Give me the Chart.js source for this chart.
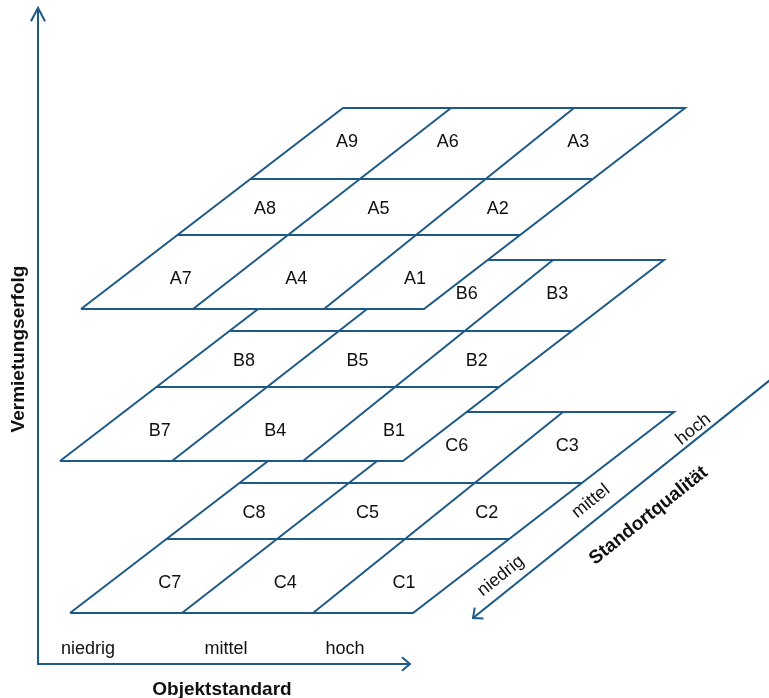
<!DOCTYPE html>
<html lang="de">
<head>
<meta charset="utf-8">
<title>Vermietungserfolg – Objektstandard – Standortqualität</title>
<script src="https://cdn.jsdelivr.net/npm/chart.js@4.4.0/dist/chart.umd.min.js"></script>
<style>
    html, body { margin: 0; padding: 0; background: #fff; }
    #wrap { width: 769px; height: 698px; }
</style>
</head>
<body>
<div id="wrap"><canvas id="matrixChart" width="769" height="698"></canvas></div>
<script>
// Data: three layers of Vermietungserfolg, each a 3x3 grid Objektstandard x Standortqualität
const layerNames = ['A', 'B', 'C'];            // top to bottom
const layerLevel = [355, 203, 51];             // height above the Objektstandard axis
const layerShift = [43, 22, 32];               // front-left corner, along Objektstandard
const objektTicks = ['niedrig', 'mittel', 'hoch'];
const standortTicks = ['niedrig', 'mittel', 'hoch'];
const colFront = [0, 112, 243, 343];           // column borders on the front edge
const colBack = [0, 108, 231, 342];            // column borders on the back edge
const rowDepth = [0, 74, 130, 201];            // row borders along Standortqualität
const cellNumbers = [                          // rows: Standort niedrig -> hoch, cols: Objekt niedrig -> hoch
    [7, 4, 1],
    [8, 5, 2],
    [9, 6, 3]
];

// Layout
const LINE = '#1d5a87';
const TEXT = '#111111';
const FONT = '"Liberation Sans", Arial, sans-serif';
const SHEAR = 262 / 201;
const DEPTH = rowDepth[rowDepth.length - 1];
const objTickX = [50, 188, 307];
const diagTip = { x: 435, y: 46 };
const diagDir = { x: 0.7805, y: 0.6252 };
const diagTickAlong = [48, 165, 290];
const diagTickPerp = [17, 19, 11];
const colNudgeX = [-4, -9, -6];
const rowNudgeY = [5, 0, -3];
const labelNudge = { A6: [-20, -3], B6: [20, -3], C6: [0, -3] };

function uAt(i, v) {
    return colFront[i] + (colBack[i] - colFront[i]) * v / DEPTH;
}

function proj(l, u, v) {
    return { x: layerShift[l] + u + SHEAR * v, y: layerLevel[l] + v };
}

function arrowHead(tip, dir, len, deg) {
    const a = deg * Math.PI / 180;
    const bx = -dir.x, by = -dir.y;
    const rot = (s) => ({
        x: tip.x + len * (bx * Math.cos(s) - by * Math.sin(s)),
        y: tip.y + len * (bx * Math.sin(s) + by * Math.cos(s))
    });
    return [rot(a), { x: tip.x, y: tip.y }, rot(-a)];
}

function lineSet(points, order, extra) {
    return Object.assign({
        data: points,
        borderColor: LINE,
        borderWidth: 2,
        pointRadius: 0,
        tension: 0,
        fill: false,
        order: order,
        clip: false
    }, extra || {});
}

const datasets = [];

layerNames.forEach((name, l) => {
    // outline with white fill, so upper layers hide the ones below
    const outline = [
        proj(l, uAt(0, 0), 0),
        proj(l, uAt(3, 0), 0),
        proj(l, uAt(3, DEPTH), DEPTH),
        proj(l, uAt(0, DEPTH), DEPTH),
        proj(l, uAt(0, 0), 0)
    ];
    datasets.push(lineSet(outline, l * 10 + 5, {
        fill: 'shape',
        backgroundColor: '#ffffff',
        role: 'outline',
        layer: l
    }));

    // Standortqualität rows
    for (let r = 1; r < 3; r++) {
        const v = rowDepth[r];
        datasets.push(lineSet([proj(l, uAt(0, v), v), proj(l, uAt(3, v), v)], l * 10 + 1));
    }
    // Objektstandard columns
    for (let c = 1; c < 3; c++) {
        datasets.push(lineSet([proj(l, uAt(c, 0), 0), proj(l, uAt(c, DEPTH), DEPTH)], l * 10 + 1));
    }
});

// axes
const vTip = { x: 0, y: 656 };
const hTip = { x: 372, y: 0 };
datasets.push(lineSet([vTip, { x: 0, y: 0 }, hTip], -1));
datasets.push(lineSet(arrowHead(vTip, { x: 0, y: 1 }, 15, 28), -1));
datasets.push(lineSet(arrowHead(hTip, { x: 1, y: 0 }, 10.5, 40), -1));
const diagEnd = { x: diagTip.x + 420 * diagDir.x, y: diagTip.y + 420 * diagDir.y };
datasets.push(lineSet([diagTip, diagEnd], -1));
datasets.push(lineSet(arrowHead(diagTip, { x: -diagDir.x, y: -diagDir.y }, 10.5, 42), -1));

function drawText(ctx, txt, x, y, angle, bold) {
    ctx.save();
    ctx.translate(x, y);
    ctx.rotate(angle);
    ctx.font = (bold ? 'bold 19px ' : '18px ') + FONT;
    ctx.fillStyle = TEXT;
    ctx.textAlign = 'center';
    ctx.textBaseline = 'alphabetic';
    ctx.fillText(txt, 0, 6.5);
    ctx.restore();
}

const matrixText = {
    id: 'matrixText',
    afterDatasetDraw(chart, args) {
        const ds = chart.data.datasets[args.index];
        if (ds.role !== 'outline') return;
        const l = ds.layer;
        const sx = chart.scales.x, sy = chart.scales.y;
        const ctx = chart.ctx;
        for (let r = 0; r < 3; r++) {
            for (let c = 0; c < 3; c++) {
                const v = (rowDepth[r] + rowDepth[r + 1]) / 2;
                const u = (uAt(c, v) + uAt(c + 1, v)) / 2;
                const p = proj(l, u, v);
                const label = layerNames[l] + cellNumbers[r][c];
                const n = labelNudge[label] || [colNudgeX[c], rowNudgeY[r]];
                drawText(ctx, label, sx.getPixelForValue(p.x) + n[0], sy.getPixelForValue(p.y) + n[1], 0, false);
            }
        }
    },
    afterDatasetsDraw(chart) {
        const sx = chart.scales.x, sy = chart.scales.y;
        const ctx = chart.ctx;
        const px = (x) => sx.getPixelForValue(x);
        const py = (y) => sy.getPixelForValue(y);

        // Objektstandard ticks and title
        objektTicks.forEach((t, i) => drawText(ctx, t, px(objTickX[i]), py(17), 0, false));
        drawText(ctx, 'Objektstandard', px(184), py(-24), 0, true);

        // Vermietungserfolg title
        drawText(ctx, 'Vermietungserfolg', px(-20.5), py(315), -Math.PI / 2, true);

        // Standortqualität ticks and title along the diagonal axis
        const ang = -Math.atan2(diagDir.y, diagDir.x);
        const nrm = { x: -diagDir.y, y: diagDir.x };
        const along = (a, p) => ({
            x: diagTip.x + a * diagDir.x + p * nrm.x,
            y: diagTip.y + a * diagDir.y + p * nrm.y
        });
        standortTicks.forEach((t, i) => {
            const q = along(diagTickAlong[i], diagTickPerp[i]);
            drawText(ctx, t, px(q.x), py(q.y), ang, false);
        });
        const q = along(201, -28.6);
        drawText(ctx, 'Standortqualität', px(q.x), py(q.y), ang, true);
    }
};

new Chart(document.getElementById('matrixChart'), {
    type: 'line',
    data: { datasets: datasets },
    options: {
        responsive: false,
        animation: false,
        devicePixelRatio: 1,
        layout: { padding: 0 },
        plugins: {
            legend: { display: false },
            tooltip: { enabled: false },
            filler: { drawTime: 'beforeDatasetDraw' }
        },
        scales: {
            x: { type: 'linear', min: -38, max: 731, display: false },
            y: { type: 'linear', min: -34, max: 664, display: false }
        }
    },
    plugins: [matrixText]
});
</script>
</body>
</html>
